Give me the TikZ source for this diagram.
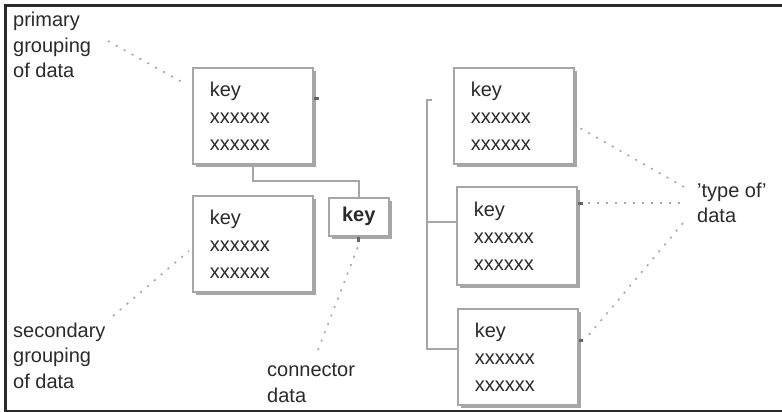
\documentclass[tikz,border=0pt]{standalone}
\usepackage{fontspec}
\setmainfont{Liberation Sans}
\usetikzlibrary{positioning,shadows,calc}
\definecolor{boxgray}{HTML}{A6A6A6}
\definecolor{ink}{HTML}{2A2A2A}
\tikzset{
  keybox/.style={draw=boxgray,line width=1.6pt,fill=white,anchor=north west,
    drop shadow={shadow xshift=3pt,shadow yshift=-3pt,fill=boxgray,opacity=1},
    inner xsep=17pt,text width=86pt,minimum height=96pt,align=left,text=ink,
    font=\fontsize{20}{27}\selectfont},
  lbl/.style={anchor=north west,inner sep=0pt,align=left,text=ink,
    font=\fontsize{20}{25.5}\selectfont},
  link/.style={draw=boxgray,line width=1.5pt},
  hint/.style={draw=boxgray,line width=1.6pt,dash pattern=on 2pt off 7pt},
  stub/.style={draw=gray!80!black,line width=3pt}
}

\begin{document}
\begin{tikzpicture}[x=1pt,y=-1pt]
\useasboundingbox (0,0) rectangle (782,412);
\clip (0,0) rectangle (782,412);
\draw[ink,line width=3pt] (790,5.5) -- (5.5,5.5) -- (5.5,411) -- (790,411);

% records on the left
\node[keybox] (prim) at (192,67) {key\\xxxxxx\\xxxxxx};
\node[keybox] (sec) at (192,195) {key\\xxxxxx\\xxxxxx};
\node[keybox,text width=40pt,inner xsep=10pt,minimum height=38pt,align=center,
  font=\fontsize{20}{24}\bfseries] (conn) at (328,197) {key};

% records on the right
\node[keybox] (typeA) at (453,67) {key\\xxxxxx\\xxxxxx};
\node[keybox,minimum height=98pt] (typeB) at (456,186) {key\\xxxxxx\\xxxxxx};
\node[keybox] (typeC) at (457,308) {key\\xxxxxx\\xxxxxx};

% captions
\node[lbl] (plabel) at (13,12) {primary\\grouping\\of data};
\node[lbl] (slabel) at (13,322.5) {secondary\\grouping\\of data};
\node[lbl] (clabel) at (267,363.5) {connector\\data};
\node[lbl] (tlabel) at (697,182.5) {'type of'\\data};

% joins between records
\coordinate (j1) at (prim.south |- 0,181);
\coordinate (j2) at (conn.north |- 0,181);
\draw[link] (prim.south) -- (j1) -- (j2) -- (conn.north);

\coordinate (rtop) at (432,100);
\coordinate (rA) at (427,100);
\coordinate (rB) at (427,222);
\coordinate (rC) at (427,349);
\draw[link] (rtop) -- (rA) -- (rC) -- (typeC.west |- rC);
\draw[link] (rB) -- (typeB.west |- rB);

% small marks where the hints leave the records
\draw[stub] (prim.east |- 0,98) -- ++(5,0);
\draw[stub] (conn.south) -- ++(0,5);
\draw[stub] (typeB.east |- 0,203) -- ++(5,0);
\draw[stub] (typeC.east |- 0,340) -- ++(4,0);

% dotted hints from captions to records
\coordinate (p1) at (108,41);
\coordinate (p2) at ($(prim.north west)+(-10,15)$);
\draw[hint] (p1) -- (p2);
\coordinate (s1) at (113,316);
\coordinate (s2) at ($(sec.west)+(-3,7)$);
\draw[hint] (s1) -- (s2);
\coordinate (c1) at (318,350);
\draw[hint] (c1) -- ($(conn.south)+(0,8)$);
\coordinate (t1) at (684,187);
\draw[hint] (t1) -- ($(typeA.east)+(5,12)$);
\coordinate (t2) at (680,203);
\draw[hint] (t2) -- ($(typeB.east |- 0,203)+(8,0)$);
\coordinate (t3) at (683,223);
\draw[hint] (t3) -- ($(typeC.east |- 0,340)+(6,0)$);
\end{tikzpicture}
\end{document}
